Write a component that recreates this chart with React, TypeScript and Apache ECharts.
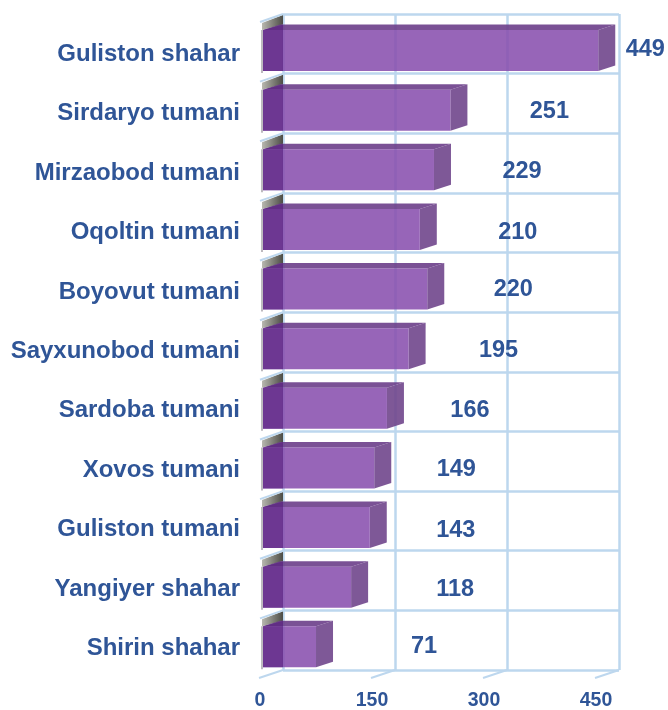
import React, { useEffect, useRef } from "react";
import * as echarts from "echarts";

const categories = ["Guliston shahar","Sirdaryo tumani","Mirzaobod tumani","Oqoltin tumani","Boyovut tumani","Sayxunobod tumani","Sardoba tumani","Xovos tumani","Guliston tumani","Yangiyer shahar","Shirin shahar"];
const values = [449,251,229,210,220,195,166,149,143,118,71];
const axisTicks = [0,150,300,450];
// hand-placed data label offsets from the end of each bar (px)
const labelDx = [47,99,88,98,86,90,83,82,86,104,108];
const labelDy = [4,7,7,8,6,7,7,7,8,7,5];

const TEXT = "#2F5597";
const GRID = "#BDD7EE";
const FONT = '"Liberation Sans", Arial, sans-serif';

export default function App() {
  const ref = useRef<HTMLDivElement>(null);
  useEffect(() => {
    const chart = echarts.init(ref.current!, null, { renderer: "svg" });
    const barItem = (params: any, api: any) => {
      const v = api.value(0), idx = api.value(1);
      const c = api.coord([v, idx]);
      const c0 = api.coord([0, idx]);
      const band = api.size([0, 1])[1];
      const top = c[1] - band / 2;
      const ft = top + 16, fb = top + 57;
      const fx0 = c0[0] - 20, fx1 = c[0] - 20;
      const dx = 17, dy = 5.5;
      const poly = (points: number[][], fill: any) => ({ type: "polygon", shape: { points }, style: { fill } });
      return {
        type: "group",
        children: [
          poly([[fx0 - 1, top + 9], [c0[0], top + 1], [c0[0], ft - dy], [fx0 - 1, ft]],
            new echarts.graphic.LinearGradient(0, 0, 1, 0, [{ offset: 0, color: "#b8b8b0" }, { offset: 1, color: "#4d4d46" }])),
          { type: "line", shape: { x1: c0[0], y1: top, x2: c0[0] - 23, y2: top + 8 }, style: { stroke: GRID, lineWidth: 2 } },
          { type: "rect", shape: { x: fx0 - 2, y: ft, width: 2, height: fb - ft + 2 }, style: { fill: "#bdbabf" } },
          poly([[fx1, ft], [fx1 + dx, ft - dy], [fx1 + dx, fb - dy], [fx1, fb]], "rgba(112,70,140,0.9)"),
          poly([[fx0, ft], [fx0 + dx, ft - dy], [fx1 + dx, ft - dy], [fx1, ft]], "rgba(108,62,138,0.9)"),
          { type: "rect", shape: { x: fx0, y: ft, width: fx1 - fx0, height: fb - ft }, style: { fill: "rgba(135,78,173,0.87)" } },
          poly([[fx0, ft], [c0[0], ft - dy], [c0[0], fb], [fx0, fb]], "rgba(82,26,122,0.62)"),
          {
            type: "text",
            style: {
              text: String(v), x: fx1 + labelDx[idx], y: c[1] + labelDy[idx],
              fill: TEXT, font: `bold 23.5px ${FONT}`, align: "center", verticalAlign: "middle",
            },
          },
        ],
      };
    };
    const floorItem = (params: any, api: any) => {
      const c = api.coord([api.value(0), categories.length - 1]);
      const y = c[1] + api.size([0, 1])[1] / 2;
      return { type: "line", shape: { x1: c[0], y1: y, x2: c[0] - 24, y2: y + 8 }, style: { stroke: GRID, lineWidth: 2 } };
    };
    const commonValue = { type: "value" as const, min: 0, max: 450, interval: 150 };
    chart.setOption({
      animation: false,
      grid: [
        { left: 283, width: 336, top: 14, height: 656, outerBoundsMode: "none" },
        { left: 260, width: 336, top: 22.5, height: 654, outerBoundsMode: "none" },
      ],
      xAxis: [
        { ...commonValue, gridIndex: 0, axisLabel: { show: false }, axisLine: { show: false }, axisTick: { show: false },
          splitLine: { show: true, lineStyle: { color: GRID, width: 2.5 } } },
        { ...commonValue, gridIndex: 1, axisLine: { show: false }, axisTick: { show: false }, splitLine: { show: false },
          axisLabel: { show: true, margin: 14.5, color: TEXT, fontFamily: FONT, fontWeight: "bold", fontSize: 19.5, lineHeight: 16, hideOverlap: false } },
      ],
      yAxis: [
        { type: "category", gridIndex: 0, data: categories, inverse: true, axisLabel: { show: false }, axisLine: { show: false }, axisTick: { show: false },
          splitLine: { show: true, lineStyle: { color: GRID, width: 2.5 } } },
        { type: "category", gridIndex: 1, data: categories, inverse: true, axisLine: { show: false }, axisTick: { show: false }, splitLine: { show: false },
          axisLabel: { show: true, interval: 0, margin: 20, color: TEXT, fontFamily: FONT, fontWeight: "bold", fontSize: 24, align: "right" } },
      ],
      series: [
        { type: "custom", xAxisIndex: 0, yAxisIndex: 0, silent: true, clip: false, renderItem: floorItem, data: axisTicks.map((t) => [t]), encode: { x: 0 } },
        { type: "custom", xAxisIndex: 0, yAxisIndex: 0, silent: true, clip: false, renderItem: barItem, data: values.map((v, i) => [v, i]), encode: { x: 0, y: 1 } },
      ],
    });
    return () => chart.dispose();
  }, []);
  return <div ref={ref} style={{ position: "absolute", left: 0, top: 0, width: 668, height: 710, filter: "blur(0.4px)" }} />;
}
